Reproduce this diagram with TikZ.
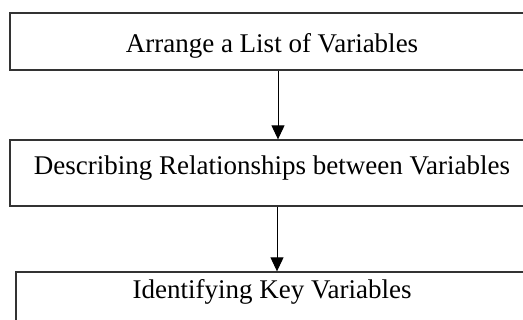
\documentclass[tikz,border=0pt]{standalone}
\usepackage{fontspec}
\setmainfont{Liberation Serif}
\usetikzlibrary{arrows.meta}
\begin{document}
\begin{tikzpicture}[x=1pt,y=1pt,
  stepbox/.style={draw=black!80, line width=1.3pt, rectangle, inner sep=0pt,
    font=\fontsize{27}{30}\selectfont},
  flowarrow/.style={draw=black, line width=1pt, -{Triangle[length=14pt,width=13pt]}}]
\useasboundingbox (0,0) rectangle (523,320);
\clip (0,0) rectangle (523,320);
\node[stepbox, minimum width=524pt, minimum height=57pt, text height=23pt, text depth=0pt] (b1) at (272,278.5)
  {Arrange a List of Variables};
\node[stepbox, minimum width=524pt, minimum height=66pt, text height=4pt, text depth=0pt] (b2) at (272,147)
  {Describing Relationships between Variables};
\node[stepbox, minimum width=512pt, minimum height=60pt, text height=0pt, text depth=7.4pt] (b3) at (272,18)
  {Identifying Key Variables};
\draw[flowarrow] ([xshift=6pt]b1.south) -- ([xshift=6pt]b2.north);
\draw[flowarrow] ([xshift=5pt]b2.south) -- ([xshift=5pt]b3.north);
\end{tikzpicture}
\end{document}
